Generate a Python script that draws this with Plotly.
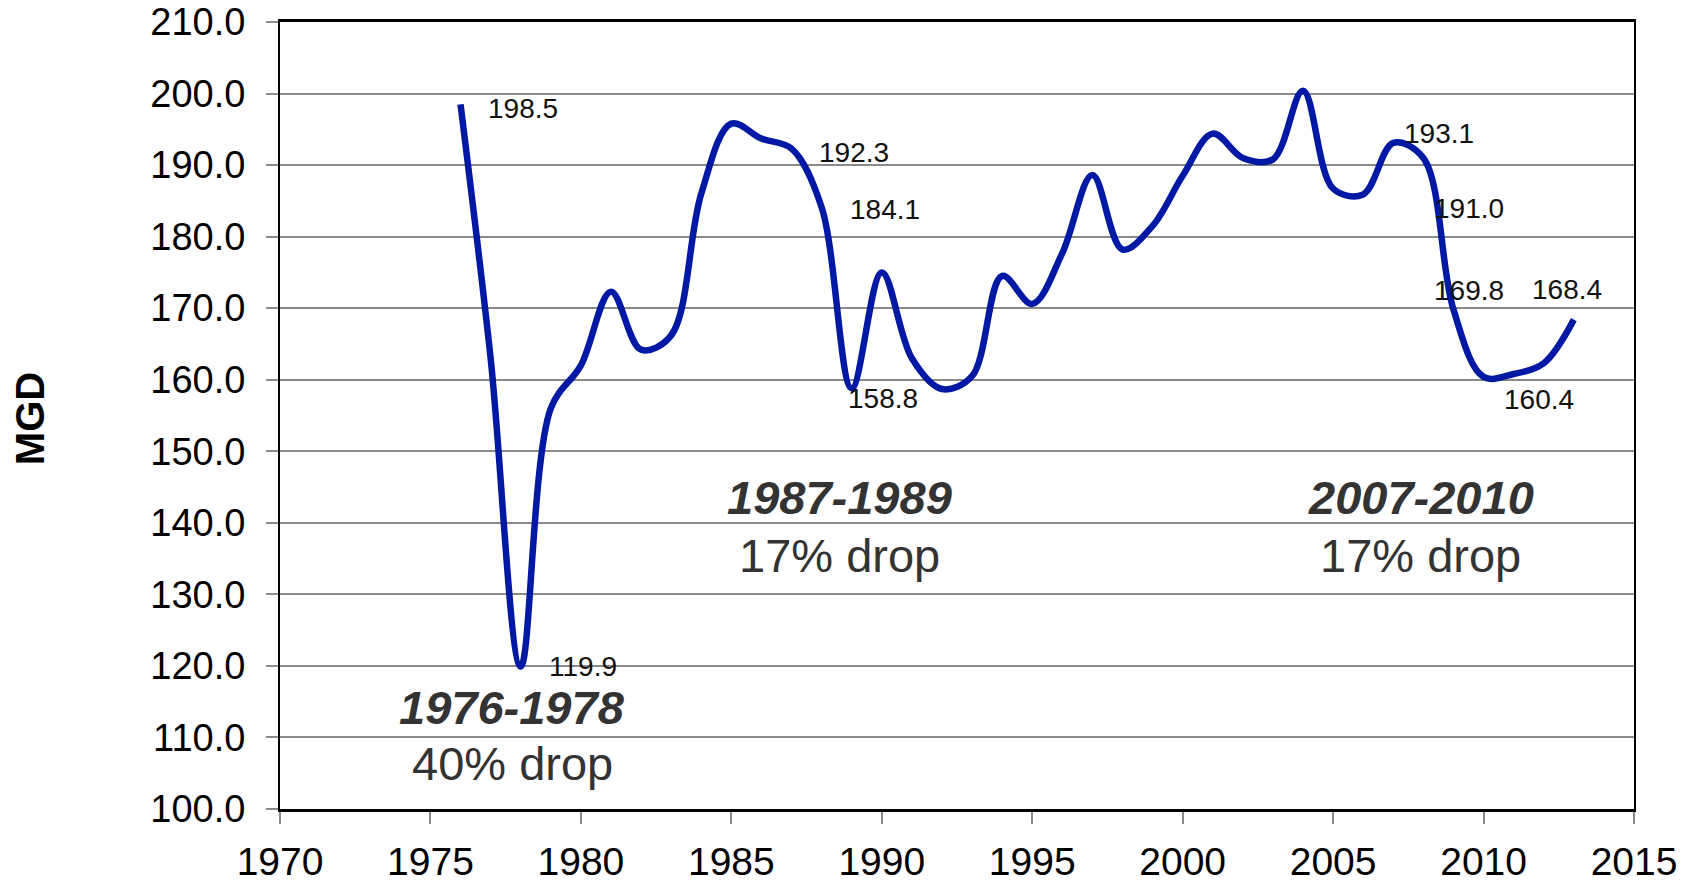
import plotly.graph_objects as go

# ---- data ----
years = list(range(1976, 2014))
mgd = [198.5, 163.0, 119.9, 156.0, 162.0, 172.3, 164.2, 166.2, 186.0, 195.8,
       193.7, 192.3, 184.1, 158.8, 175.0, 163.0, 158.7, 160.5, 174.5, 170.6,
       177.7, 188.6, 178.2, 181.5, 188.5, 194.4, 191.0, 190.8, 200.4, 186.7,
       185.9, 193.1, 191.0, 169.8, 160.4, 160.8, 162.3, 168.4]
labelled_years = [1976, 1978, 1987, 1988, 1989, 2007, 2008, 2009, 2010, 2013]
x_ticks = [1970, 1975, 1980, 1985, 1990, 1995, 2000, 2005, 2010, 2015]
y_ticks = [100, 110, 120, 130, 140, 150, 160, 170, 180, 190, 200, 210]
periods = ["1976-1978", "1987-1989", "2007-2010"]
drops = ["40% drop", "17% drop", "17% drop"]

# ---- styling / placement (not data) ----
label_offsets = {1976: (26, 4), 1978: (27, 0), 1987: (26, 4), 1988: (27, 2),
                 1989: (-5, 10), 2007: (10, -9), 2008: (10, 51),
                 2009: (-20, -19), 2010: (19, 23), 2013: (-43, -30)}
period_pos = [(1977.72, 114.2, 106.4), (1988.6, 143.5, 135.4), (2007.92, 143.5, 135.4)]

FONT = "Liberation Sans, Arial, sans-serif"
LINE = "#0019A5"
GRID = "#8a8a8a"
TXT = "#333333"

fig = go.Figure()
fig.add_trace(go.Scatter(
    x=years, y=mgd, mode="lines",
    line=dict(color=LINE, width=6.5, shape="spline", smoothing=1.0),
    hoverinfo="x+y", showlegend=False))

annotations = []
val = dict(zip(years, mgd))
for yr in labelled_years:
    dx, dy = label_offsets[yr]
    annotations.append(dict(
        x=yr, y=val[yr], xref="x", yref="y", text=f"{val[yr]:.1f}",
        showarrow=False, xanchor="left", yanchor="middle", borderpad=0,
        xshift=dx, yshift=-dy, font=dict(family=FONT, size=28, color="#111111")))

for p, d, (px, py1, py2) in zip(periods, drops, period_pos):
    annotations.append(dict(x=px, y=py1, xref="x", yref="y",
                            text=f"<b><i>{p}</i></b>", showarrow=False,
                            xanchor="center", yanchor="middle", borderpad=0,
                            font=dict(family=FONT, size=47, color=TXT)))
    annotations.append(dict(x=px, y=py2, xref="x", yref="y",
                            text=d, showarrow=False,
                            xanchor="center", yanchor="middle", borderpad=0,
                            font=dict(family=FONT, size=47, color=TXT)))

annotations.append(dict(x=-0.185, y=0.496, xref="paper", yref="paper",
                        text="<b>MGD</b>", showarrow=False, textangle=-90,
                        xanchor="center", yanchor="middle",
                        font=dict(family=FONT, size=40, color="#000000")))

fig.update_layout(
    width=1693, height=880,
    margin=dict(l=280, r=59, t=22, b=71, pad=0, autoexpand=False),
    paper_bgcolor="white", plot_bgcolor="white",
    font=dict(family=FONT, color="#000000"),
    annotations=annotations,
    xaxis=dict(range=[1970, 2015], tickvals=x_ticks, ticktext=[str(v) for v in x_ticks],
               showgrid=False, zeroline=False, automargin=False,
               showline=True, linecolor="#000000", linewidth=3, mirror=True,
               ticks="outside", ticklen=12, tickwidth=1.5, tickcolor=GRID,
               tickfont=dict(family=FONT, size=39, color="#000000"),
               ticklabelstandoff=4),
    yaxis=dict(range=[100, 210], tickvals=y_ticks, ticktext=[f"{v:.1f}" for v in y_ticks],
               showgrid=True, gridcolor=GRID, gridwidth=2, zeroline=False, automargin=False,
               showline=True, linecolor="#000000", linewidth=2, mirror=True,
               ticks="outside", ticklen=12, tickwidth=2, tickcolor=GRID,
               tickfont=dict(family=FONT, size=38, color="#000000"),
               ticklabelstandoff=13),
)

fig.write_html("out.html", config={"displayModeBar": False},
               post_script="document.body.style.margin='0';document.body.style.overflow='hidden';")
